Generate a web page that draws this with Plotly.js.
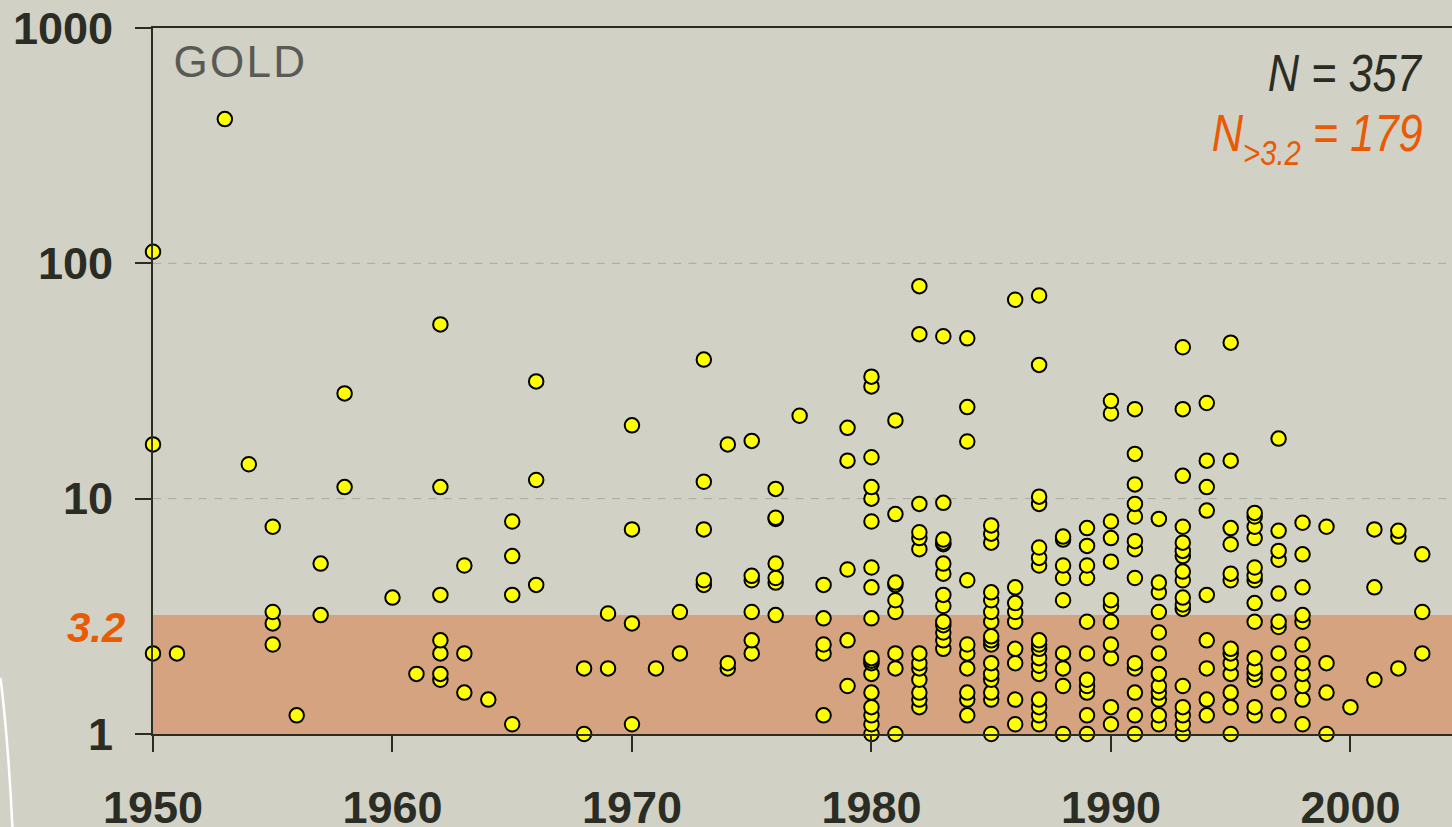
<!DOCTYPE html>
<html><head><meta charset="utf-8">
<script src="https://cdn.plot.ly/plotly-3.0.1.min.js"></script>
<style>html,body{margin:0;padding:0;background:#d1d1c6;overflow:hidden}#c{width:1452px;height:827px}</style>
</head><body><div id="c"></div><script>
const years=[1950,1951,1953,1954,1955,1956,1957,1958,1960,1961,1962,1963,1964,1965,1966,1968,1969,1970,1971,1972,1973,1974,1975,1976,1977,1978,1979,1980,1981,1982,1983,1984,1985,1986,1987,1988,1989,1990,1991,1992,1993,1994,1995,1996,1997,1998,1999,2000,2001,2002,2003];
const valuesPerYear=[
[112,17,2.2],[2.2],[410],[14],[7.6,3.3,2.95,2.4],[1.2],[5.3,3.2],[28,11.2],[3.8],[1.8],
[55,11.2,3.9,2.5,2.2,1.8,1.7],[5.2,2.2,1.5],[1.4],[8.0,5.7,3.9,1.1],[31.5,12,4.3],[1.9,1.0],[3.25,1.9],[20.5,7.4,2.95,1.1],[1.9],[3.3,2.2],
[39,11.8,7.4,4.5,4.3],[17,2.0,1.9],[17.6,4.7,4.5,3.3,2.5,2.2],[11,8.3,8.2,5.3,4.6,4.4,3.2],[22.5],[4.3,3.1,2.4,2.2,1.2],[20,14.5,5.0,2.5,1.6],
[33,30,15,11.2,10,8,5.1,4.2,3.1,2.1,2.05,2.0,1.8,1.5,1.3,1.2,1.1,1.0],
[21.5,8.6,4.4,4.3,3.7,3.3,2.2,1.9,1.0],
[80,50,9.5,7.2,6.8,6.1,2.2,2.0,1.9,1.7,1.5,1.4,1.3],
[49,9.6,6.7,6.5,6.4,5.3,4.8,3.9,3.5,3.0,2.9,2.7,2.5,2.3],
[48,24.5,17.5,4.5,2.4,2.2,1.9,1.5,1.4,1.2],
[7.7,7.1,6.5,4.0,3.7,3.3,3.0,2.6,2.5,2.4,2.0,1.8,1.7,1.5,1.4,1.0],
[70,4.2,3.6,3.3,3.0,2.3,2.0,1.4,1.1],
[73,37,10.2,9.5,6.2,5.6,5.2,2.5,2.4,2.3,2.1,1.95,1.8,1.4,1.3,1.2,1.1],
[6.9,6.7,5.2,4.6,3.7,2.2,1.9,1.6,1.0],
[7.5,6.3,5.2,4.6,3.0,2.2,1.7,1.6,1.5,1.2,1.0],
[26,23,8,6.8,5.4,3.7,3.5,3.0,2.4,2.1,1.3,1.1],
[24,15.5,11.5,9.5,8.4,6.6,6.1,4.6,2.0,1.9,1.5,1.2,1.0],
[8.2,4.4,4.0,3.3,2.7,2.2,1.8,1.6,1.5,1.4,1.2,1.1],
[44,24,12.5,7.6,6.5,6.0,5.7,4.9,4.5,3.8,3.55,3.4,1.6,1.3,1.2,1.1,1.0],
[25.5,14.5,11.2,8.9,3.9,2.5,1.9,1.4,1.2],
[46,14.5,7.5,6.4,4.8,4.5,2.3,2.2,2.0,1.8,1.5,1.3,1.0],
[8.7,8.4,7.6,6.8,5.1,4.7,4.5,3.6,3.0,2.1,1.9,1.8,1.7,1.3,1.2],
[18,7.3,6.0,5.5,3.95,3.0,2.85,2.2,1.8,1.5,1.2],
[7.9,5.8,4.2,3.2,3.0,2.4,2.0,1.8,1.6,1.4,1.1],
[7.6,2.0,1.5,1.0],[1.3],[7.4,4.2,1.7],[7.3,6.9,1.9],[5.8,3.3,2.2]
];
const xTicks=[1950,1960,1970,1980,1990,2000];
const yTicks=[1,10,100,1000];
const yTickLabels=['1','10','100','1000'];
const gridValues=[10,100];
const bandLow=1, bandHigh=3.2;

const xs=[],ys=[];
years.forEach((yr,i)=>[...valuesPerYear[i]].reverse().forEach(v=>{xs.push(yr);ys.push(v);}));

const L=152.5,T=28,B=93,W=1452,H=827;
const px=x=>(x-L)/(W-L), py=y=>(H-B-y)/(H-B-T);
const ink='#2b2d24', orange='#e95a04';
const tickFont={size:45,color:ink,family:'"Liberation Sans",Arial,sans-serif',weight:700};
const trace={x:xs,y:ys,type:'scatter',mode:'markers',cliponaxis:false,hoverinfo:'x+y',
  marker:{size:14.5,color:'#ffff00',line:{color:'#000000',width:2}}};
const shapes=[
 {type:'rect',xref:'paper',yref:'y',x0:0,x1:1,y0:bandLow,y1:bandHigh,fillcolor:'#d6a381',line:{width:0},layer:'below'},
 {type:'path',xref:'paper',yref:'paper',layer:'below',line:{color:'#ffffff',width:2.5},
  path:`M ${px(0)} ${py(678)} Q ${px(8)} ${py(745)} ${px(12)} ${py(830)}`}
];
gridValues.forEach(v=>shapes.push({type:'line',xref:'paper',yref:'y',x0:0,x1:1,y0:v,y1:v,layer:'below',line:{color:'#a9a9a0',width:1,dash:'8px,7.3px'}}));

const layout={width:W,height:H,margin:{l:L,r:0,t:T,b:B},paper_bgcolor:'#d1d1c6',plot_bgcolor:'#d1d1c6',showlegend:false,
 font:{family:'"Liberation Sans",Arial,sans-serif',color:ink},
 xaxis:{range:[1950,2004.24],tickmode:'array',tickvals:xTicks,ticktext:xTicks.map(String),ticks:'outside',ticklen:16,tickwidth:2,tickcolor:ink,showline:true,mirror:true,linecolor:ink,linewidth:2,showgrid:false,zeroline:false,ticklabelstandoff:17,tickfont:tickFont},
 yaxis:{type:'log',range:[0,3],tickmode:'array',tickvals:yTicks,ticktext:yTickLabels,ticks:'outside',ticklen:16,tickwidth:2,tickcolor:ink,showline:true,linecolor:ink,linewidth:2,showgrid:false,zeroline:false,ticklabelstandoff:13,tickfont:tickFont},
 shapes:shapes,
 annotations:[
  {xref:'paper',yref:'paper',x:px(176),y:py(62),xanchor:'left',yanchor:'middle',showarrow:false,text:'GOLD',font:{size:44,color:'#5a5a55',family:'"Liberation Sans",Arial,sans-serif'}},
  {xref:'paper',yref:'paper',x:px(1425),y:py(73),xanchor:'right',yanchor:'middle',showarrow:false,text:'N = 357',font:{size:52,color:ink,family:'"Liberation Sans",sans-serif',style:'italic'}},
  {xref:'paper',yref:'paper',x:px(1425),y:py(136),xanchor:'right',yanchor:'middle',showarrow:false,text:'N<sub><span style="font-size:35px">&gt;3.2</span></sub> = 179',font:{size:52,color:orange,family:'"Liberation Sans",sans-serif',style:'italic'}},
  {xref:'paper',yref:'paper',x:px(126),y:py(627),xanchor:'right',yanchor:'middle',showarrow:false,text:'<b><i>3.2</i></b>',font:{size:42,color:orange}}
 ]};
Plotly.newPlot('c',[trace],layout,{displayModeBar:false,responsive:false}).then(()=>{
  const texts=document.querySelectorAll('.annotation-text');
  texts[0].style.letterSpacing='2.3px';
  // the reference uses a condensed italic: squeeze these two about their right edge
  [texts[1],texts[2]].forEach(t=>{
    const b=t.getBBox(), rx=b.x+b.width, old=t.getAttribute('transform')||'';
    t.setAttribute('transform',`${old} translate(${rx},0) scale(0.835,1) translate(${-rx},0)`);
  });
  // push the subscript a little lower, as in the reference
  const shifted=[...texts[2].querySelectorAll('tspan[dy]')];
  if(shifted.length>=2){
    const toPx=e=>parseFloat(e.getAttribute('dy'))*parseFloat(getComputedStyle(e).fontSize);
    const a=toPx(shifted[0]), z=toPx(shifted[shifted.length-1]);
    shifted[0].setAttribute('dy',(a+3)+'px');
    shifted[shifted.length-1].setAttribute('dy',(z-3)+'px');
  }
});
</script></body></html>
